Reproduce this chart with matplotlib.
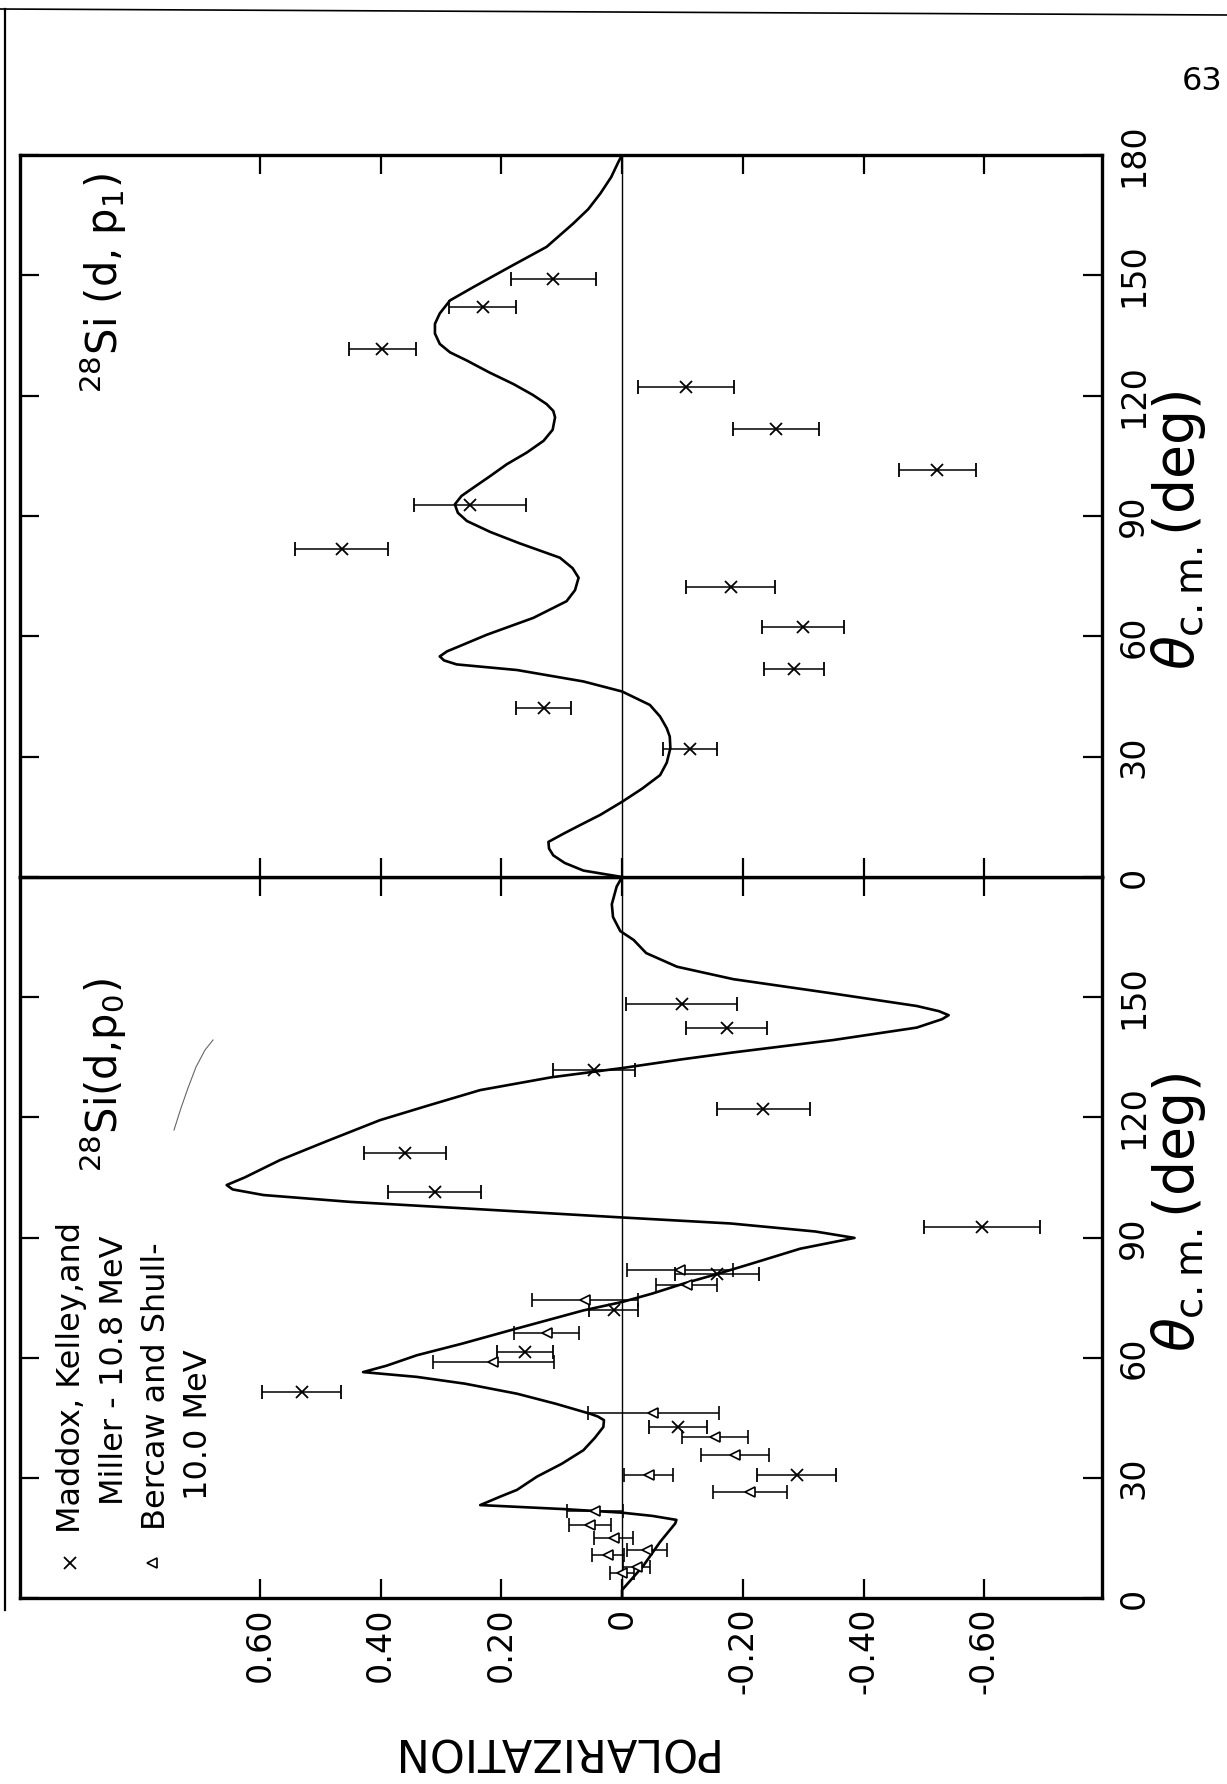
import numpy as np
import matplotlib.pyplot as plt
from matplotlib.lines import Line2D

plt.rcParams['font.family'] = ['DejaVu Sans']

W, H = 1227, 1784

# ---- 28Si(d,p1): DWBA curve, polarization vs theta_cm (deg)
p1_theta = [0.0, 1.6, 3.5, 5.4, 7.1, 8.75, 10.8, 12.9, 15.5, 18.75, 22.0, 25.4, 28.5, 32.1,
            35.0, 37.1, 40.0, 42.9, 46.25, 48.75, 51.6, 53.0, 54.0, 55.0, 56.25, 57.5, 60.4,
            64.6, 68.75, 71.5, 74.6, 77.0, 79.6, 83.2, 86.0, 88.75, 90.8, 92.9, 95.0, 97.1,
            100.0, 102.9, 105.8, 108.75, 111.5, 114.6, 116.2, 117.9, 120.2, 122.9, 125.8,
            128.75, 130.8, 132.9, 135.5, 137.9, 140.5, 143.75, 147.1, 152.1, 157.1, 162.9,
            166.5, 170.4, 174.5, 178.3, 180.0]
p1_pol = [0.0, 0.064, 0.095, 0.114, 0.121, 0.122, 0.097, 0.07, 0.036, 0.0, -0.033, -0.063, -0.074, -0.08,
          -0.079, -0.074, -0.063, -0.046, 0.0, 0.064, 0.174, 0.274, 0.295, 0.302, 0.29, 0.27, 0.224,
          0.147, 0.092, 0.078, 0.072, 0.082, 0.103, 0.17, 0.218, 0.257, 0.272, 0.277, 0.266, 0.246,
          0.218, 0.191, 0.158, 0.130, 0.115, 0.111, 0.114, 0.125, 0.148, 0.18, 0.22,
          0.257, 0.285, 0.302, 0.31, 0.31, 0.302, 0.285, 0.246, 0.186, 0.125, 0.081,
          0.056, 0.036, 0.018, 0.006, 0.0]

# Maddox, Kelley and Miller points for (d,p1)
p1_mkm_theta = [149.2, 142.1, 131.7, 122.1, 111.6, 101.4, 92.75, 81.7, 72.2, 62.4, 51.75, 42.25, 31.9]
p1_mkm_pol = [0.114, 0.231, 0.397, -0.106, -0.255, -0.522, 0.252, 0.464, -0.180, -0.300, -0.285, 0.130, -0.113]
p1_mkm_err = [0.070, 0.055, 0.056, 0.080, 0.072, 0.064, 0.093, 0.077, 0.074, 0.068, 0.050, 0.045, 0.045]

# ---- 28Si(d,p0): DWBA curve
p0_theta = [0.0, 2.0, 8.0, 14.0, 18.6, 19.5, 20.5, 21.3, 22.2, 23.2, 25.3, 27.0, 30.3, 33.5,
            36.9, 40.0, 42.7, 44.4, 45.3, 46.0, 48.5, 51.0, 53.5, 55.2, 56.4, 58.0, 60.6,
            63.5, 66.8, 69.5, 71.8, 73.9, 76.0, 78.5, 81.0, 83.5, 87.2, 89.9, 91.5, 93.5,
            95.0, 97.0, 98.9, 100.6, 102.0, 103.1, 105.0, 109.3, 114.0, 119.3, 123.0,
            126.8, 130.0, 132.3, 134.5, 136.2, 139.3, 142.4, 144.5, 145.5, 146.5, 147.8,
            150.9, 154.5, 157.6, 161.0, 164.3, 166.5, 170.0, 173.2, 177.6, 180.0]
p0_pol = [0.0, 0.0, -0.035, -0.063, -0.088, -0.09, -0.05, 0.0, 0.097, 0.235, 0.202, 0.174, 0.141, 0.1,
          0.064, 0.045, 0.031, 0.03, 0.04, 0.053, 0.11, 0.174, 0.26, 0.34, 0.429, 0.39, 0.34,
          0.265, 0.186, 0.12, 0.064, 0.0, -0.05, -0.102, -0.16, -0.215, -0.295, -0.385, -0.32, -0.18,
          0.0, 0.23, 0.451, 0.594, 0.645, 0.655, 0.625, 0.567, 0.49, 0.401, 0.32,
          0.235, 0.117, 0.0, -0.1, -0.184, -0.35, -0.488, -0.53, -0.541, -0.525, -0.488,
          -0.35, -0.184, -0.091, -0.04, -0.019, 0.003, 0.015, 0.017, 0.009, 0.0]

# Maddox, Kelley and Miller points for (d,p0)
p0_mkm_theta = [148.4, 142.2, 131.8, 122.2, 111.0, 101.4, 92.5, 81.0, 71.9, 61.5, 51.5, 42.8, 30.7]
p0_mkm_pol = [-0.099, -0.173, 0.047, -0.234, 0.360, 0.310, -0.596, -0.157, 0.014, 0.161, 0.531, -0.093, -0.289]
p0_mkm_err = [0.092, 0.067, 0.068, 0.077, 0.068, 0.077, 0.096, 0.070, 0.041, 0.046, 0.065, 0.048, 0.065]

# Bercaw and Shull points for (d,p0)
p0_bs_theta = [81.9, 78.1, 74.4, 66.1, 59.0, 46.1, 40.3, 35.7, 30.7, 26.5, 21.8, 18.2, 14.9, 12.0, 10.7, 7.8, 6.2]
p0_bs_pol = [-0.096, -0.107, 0.061, 0.125, 0.213, -0.052, -0.154, -0.187, -0.044, -0.212,
             0.045, 0.053, 0.014, -0.041, 0.023, -0.024, 0.0]
p0_bs_err = [0.088, 0.050, 0.088, 0.054, 0.100, 0.108, 0.055, 0.057, 0.041, 0.061,
             0.047, 0.035, 0.032, 0.033, 0.026, 0.023, 0.020]

pol_ticks = [0.6, 0.4, 0.2, 0.0, -0.2, -0.4, -0.6]
pol_labels = ['0.60', '0.40', '0.20', '0', '-0.20', '-0.40', '-0.60']
ang_ticks = [0, 30, 60, 90, 120, 150, 180]
top_ang_labels = ['0', '30', '60', '90', '120', '150', '180']
bot_ang_labels = ['0', '30', '60', '90', '120', '150', '']


def fx(x):
    return x / W


def fy(y):
    return 1 - y / H


fig = plt.figure(figsize=(W / 100, H / 100), dpi=100)

left, right = fx(19.6), fx(1102)
ax_bot = fig.add_axes([left, fy(1598), right - left, fy(877) - fy(1598)])
ax_top = fig.add_axes([left, fy(877), right - left, fy(155) - fy(877)])


def setup(ax, ylabels, show_x):
    ax.set_xlim(0.998, -0.795)
    ax.set_ylim(0, 180)
    for s in ax.spines.values():
        s.set_linewidth(2.4)
    ax.axvline(0, color='k', lw=1.0, zorder=1)
    ax.set_xticks(pol_ticks)
    ax.set_xticklabels(pol_labels, rotation=90, fontsize=24)
    ax.set_yticks(ang_ticks)
    ax.set_yticklabels(ylabels, rotation=90, fontsize=24)
    ax.tick_params(axis='x', direction='in', length=14, width=1.6, top=True, bottom=True,
                   labelbottom=show_x, labeltop=False, pad=7)
    ax.tick_params(axis='y', direction='in', length=14, width=1.6, left=True, right=True,
                   labelleft=False, labelright=True, pad=11)
    for lab in ax.get_yticklabels():
        lab.set_va('center')
        lab.set_ha('left')


setup(ax_top, top_ang_labels, False)
setup(ax_bot, bot_ang_labels, True)

bar_kw = dict(color='k', elinewidth=1.1, capsize=4.8, capthick=1.1, linestyle='none')

ax_top.plot(p1_pol, p1_theta, color='k', lw=1.9, solid_joinstyle='round')
ax_top.errorbar(p1_mkm_pol, p1_mkm_theta, xerr=p1_mkm_err, marker='x', ms=9, mew=1.3, **bar_kw)

ax_bot.plot(p0_pol, p0_theta, color='k', lw=1.9, solid_joinstyle='round')
ax_bot.errorbar(p0_mkm_pol, p0_mkm_theta, xerr=p0_mkm_err, marker='x', ms=9, mew=1.3, **bar_kw)
ax_bot.errorbar(p0_bs_pol, p0_bs_theta, xerr=p0_bs_err, marker='<', ms=7.5, mew=1.2,
                mfc='white', **bar_kw)

# reaction titles
fig.text(fx(118), fy(393), r'$^{28}$Si (d, p$_1$)', rotation=90, rotation_mode='anchor',
         ha='left', va='baseline', fontsize=30)
fig.text(fx(118), fy(1172), r'$^{28}$Si(d,p$_0$)', rotation=90, rotation_mode='anchor',
         ha='left', va='baseline', fontsize=30)

# angle axis labels
for yc in (530, 1212):
    fig.text(fx(1178), fy(yc), r'$\theta_{\mathrm{c.m.}}$(deg)', rotation=90,
             ha='center', va='center', fontsize=40)

fig.text(fx(551), fy(1750), 'POLARIZATION', rotation=180, ha='center', va='center', fontsize=32)

# key for the two data sets
legend_lines = [(80, 1533, 'Maddox, Kelley,and'), (123, 1505, 'Miller - 10.8 MeV'),
                (165, 1530, 'Bercaw and Shull-'), (207, 1500, '10.0 MeV')]
for bx, by, s in legend_lines:
    fig.text(fx(bx), fy(by), s, rotation=90, rotation_mode='anchor',
             ha='left', va='baseline', fontsize=23)
fig.add_artist(Line2D([fx(70)], [fy(1563)], marker='x', ms=8, mew=1.3, color='k',
                      transform=fig.transFigure))
fig.add_artist(Line2D([fx(152)], [fy(1563)], marker='<', ms=7, mew=1.2, color='k',
                      mfc='white', transform=fig.transFigure))

# page number and edges of the sheet
fig.text(fx(1182), fy(82), '63', fontsize=23, ha='left', va='center')
fig.add_artist(Line2D([0, 1], [fy(9), fy(15)], color='k', lw=1.2, transform=fig.transFigure))
fig.add_artist(Line2D([fx(5), fx(5)], [fy(9), fy(1610)], color='k', lw=1.6, transform=fig.transFigure))

# pencil stroke on the sheet
fig.add_artist(Line2D([fx(213), fx(205), fx(196), fx(188), fx(181), fx(174)],
                      [fy(1040), fy(1050), fy(1067), fy(1088), fy(1108), fy(1130)],
                      color='0.4', lw=0.8, transform=fig.transFigure))

fig.savefig('out.png', dpi=100)
